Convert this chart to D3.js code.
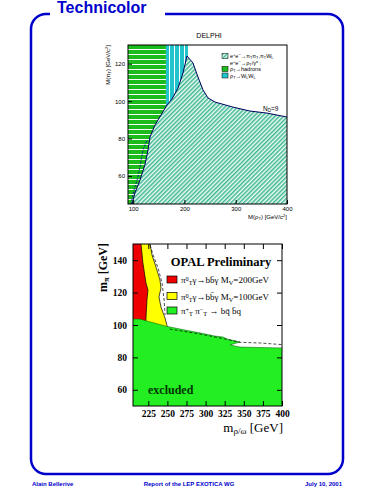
<!DOCTYPE html>
<html>
<head>
<meta charset="utf-8">
<script src="https://cdn.jsdelivr.net/npm/d3@7"></script>
<style>body{margin:0;background:#fff}</style>
</head>
<body>
<div id="container"></div>
<script>
let w = 375;
let h = 500;
let blue = "#0000cc";

// DELPHI panel values
let delphiXTicks = [100, 200, 300, 400];
let delphiYTicks = [60, 80, 100, 120];
let limitMassX = [97.8, 103.6, 113.4, 123, 129, 132.9, 142.6, 166, 175.8, 187.5, 197.2, 205, 216.7, 226.4, 236.2, 246, 259.6, 294.6, 327.8, 360.9, 400];
let limitMassY = [45, 50.9, 57.8, 66, 73.9, 80.8, 87.2, 97.9, 101.1, 107, 115, 124.1, 120.4, 112.9, 106, 101.7, 99.5, 96.8, 94.7, 93.6, 91.5];
let expectedMassX = [95.8, 101.7, 109.5, 119.2, 127];
let expectedMassY = [45, 52.5, 59.4, 73.9, 79.2];
let hadronsRange = [90, 164];
let wwRange = [164, 207];

// OPAL panel values
let opalXTicks = [225, 250, 275, 300, 325, 350, 375, 400];
let opalYTicks = [60, 80, 100, 120, 140];
let chargedX = [205, 214, 223, 247, 273, 293, 312, 322.8, 328, 345, 332, 345, 400];
let chargedY = [103.7, 103.7, 102.5, 99.4, 96.9, 95.1, 93.2, 92.6, 91.4, 89.5, 87.7, 86.4, 85.8];
let chargedExpX = [253, 293, 325, 345, 371, 400];
let chargedExpY = [97.5, 94.4, 91.4, 89.3, 88.9, 87.9];
let redEdgeX = [215.5, 218, 222, 224.6, 223.3, 222, 222];
let redEdgeY = [150, 138.3, 125.9, 121.6, 115.4, 104.3, 95];
let yellowEdgeX = [227.3, 229.9, 235.1, 240.3, 241.6, 239, 241.6, 246.9, 249.5, 252];
let yellowEdgeY = [150, 143.2, 135.8, 127.8, 122.8, 117.3, 111.1, 104.3, 99.6, 95];
let yellowExpX = [227.3, 231.3, 237.8, 243, 245.7, 247];
let yellowExpY = [149.4, 143.2, 135.2, 125.9, 115.4, 106.2];

let svg = d3.select("#container")
  .append("svg")
    .attr("width", w)
    .attr("height", h)
    .style("background-color", "white");

function rich(sel, parts, size){
  parts.forEach(function(p){
    let t = sel.append("tspan").text(p[0]);
    if (p[1] == "sub") t.attr("baseline-shift", "-25%").attr("font-size", size * 0.7);
    if (p[1] == "sup") t.attr("baseline-shift", "40%").attr("font-size", size * 0.7);
  });
  return sel;
}

// page frame
svg.append("path")
  .attr("d", "M50,14 H46 A15,15 0 0 0 31,29 V459 A15,15 0 0 0 46,474 H328 A15,15 0 0 0 343,459 V29 A15,15 0 0 0 328,14 H165")
  .attr("fill", "none").attr("stroke", blue).attr("stroke-width", 2.5);
svg.append("text").text("Technicolor")
  .attr("x", 57).attr("y", 12.5)
  .attr("font-family", "Liberation Sans").attr("font-weight", "bold").attr("font-size", 16).attr("fill", blue);

let foot = svg.append("g").attr("font-family", "Liberation Sans").attr("font-weight", "bold").attr("font-size", 6).attr("fill", blue);
foot.append("text").text("Alain Bellerive").attr("x", 32).attr("y", 486);
foot.append("text").text("Report of the LEP EXOTICA WG").attr("x", 189).attr("y", 486).attr("text-anchor", "middle");
foot.append("text").text("July 10, 2001").attr("x", 342).attr("y", 486).attr("text-anchor", "end");

let defs = svg.append("defs");
let hatch = defs.append("pattern").attr("id", "hatch").attr("width", 3).attr("height", 3)
  .attr("patternUnits", "userSpaceOnUse").attr("patternTransform", "rotate(45)");
hatch.append("rect").attr("width", 3).attr("height", 3).attr("fill", "#f2fbf7");
hatch.append("rect").attr("width", 1.5).attr("height", 3).attr("fill", "#3bb890");
let hstripe = defs.append("pattern").attr("id", "hstripe").attr("width", 10).attr("height", 5).attr("patternUnits", "userSpaceOnUse");
hstripe.append("rect").attr("width", 10).attr("height", 5).attr("fill", "#1cbb1c");
hstripe.append("rect").attr("y", 4).attr("width", 10).attr("height", 1).attr("fill", "#ffffff");
let vstripe = defs.append("pattern").attr("id", "vstripe").attr("width", 5).attr("height", 10).attr("patternUnits", "userSpaceOnUse");
vstripe.append("rect").attr("width", 5).attr("height", 10).attr("fill", "#22c4cc");
vstripe.append("rect").attr("x", 4).attr("width", 1).attr("height", 10).attr("fill", "#ffffff");

// ---------- DELPHI ----------
let dX = d3.scaleLinear().domain([90, 400]).range([128, 287]);
let dY = d3.scaleLinear().domain([45, 130]).range([204, 45]);

defs.append("clipPath").attr("id", "dclip").append("rect")
  .attr("x", dX(90)).attr("y", dY(130)).attr("width", dX(400) - dX(90)).attr("height", dY(45) - dY(130));

let dg = svg.append("g").attr("clip-path", "url(#dclip)");
dg.append("rect").attr("x", dX(hadronsRange[0])).attr("y", dY(130))
  .attr("width", dX(hadronsRange[1]) - dX(hadronsRange[0])).attr("height", dY(45) - dY(130)).attr("fill", "url(#hstripe)");
dg.append("rect").attr("x", dX(wwRange[0])).attr("y", dY(130))
  .attr("width", dX(wwRange[1]) - dX(wwRange[0])).attr("height", dY(45) - dY(130)).attr("fill", "url(#vstripe)");

let limitPts = limitMassX.map((x, i) => [x, limitMassY[i]]);
dg.append("path").datum(limitPts)
  .attr("d", d3.area().x(d => dX(d[0])).y0(dY(45)).y1(d => dY(d[1])))
  .attr("fill", "url(#hatch)");
dg.append("path").datum(limitPts)
  .attr("d", d3.line().x(d => dX(d[0])).y(d => dY(d[1])))
  .attr("fill", "none").attr("stroke", "#000060").attr("stroke-width", 1);
dg.append("path").datum(expectedMassX.map((x, i) => [x, expectedMassY[i]]))
  .attr("d", d3.line().x(d => dX(d[0])).y(d => dY(d[1])))
  .attr("fill", "none").attr("stroke", "#0000a0").attr("stroke-width", 0.8).attr("stroke-dasharray", "2,1.5");

svg.append("rect").attr("x", dX(90)).attr("y", dY(130)).attr("width", dX(400) - dX(90)).attr("height", dY(45) - dY(130))
  .attr("fill", "none").attr("stroke", "black").attr("stroke-width", 1);

let dax = svg.append("g").attr("transform", "translate(0," + dY(45) + ")");
dax.call(d3.axisBottom(dX).tickValues(d3.range(100, 401, 20)).tickFormat("").tickSize(-2));
dax.call(d3.axisBottom(dX).tickValues(delphiXTicks).tickSize(-4).tickPadding(3));
let day = svg.append("g").attr("transform", "translate(" + dX(90) + ",0)");
day.call(d3.axisLeft(dY).tickValues(d3.range(50, 130, 5)).tickFormat("").tickSize(-2));
day.call(d3.axisLeft(dY).tickValues(delphiYTicks).tickSize(-4).tickPadding(3));
[dax, day].forEach(function(g){
  g.selectAll(".domain").remove();
  g.selectAll("text").attr("font-family", "Liberation Sans").attr("font-size", 6).attr("fill", "black");
});

svg.append("text").text("DELPHI").attr("x", 209).attr("y", 38).attr("text-anchor", "middle")
  .attr("font-family", "Liberation Sans").attr("font-size", 7);
rich(svg.append("text").attr("x", 287).attr("y", 219).attr("text-anchor", "end")
  .attr("font-family", "Liberation Sans").attr("font-size", 6),
  [["M(ρ"], ["T", "sub"], [") [GeV/c"], ["2", "sup"], ["]"]], 6);
rich(svg.append("text").attr("transform", "translate(110,45) rotate(-90)").attr("text-anchor", "end")
  .attr("font-family", "Liberation Sans").attr("font-size", 6),
  [["M(π"], ["T", "sub"], [") [GeV/c"], ["2", "sup"], ["]"]], 6);

let dleg = svg.append("g").attr("font-family", "Liberation Sans").attr("font-size", 5.5);
dleg.append("rect").attr("x", 222).attr("y", 53.5).attr("width", 6).attr("height", 5).attr("fill", "url(#hatch)").attr("stroke", "black").attr("stroke-width", 0.5);
dleg.append("rect").attr("x", 222).attr("y", 66.5).attr("width", 6).attr("height", 5).attr("fill", "#1cbb1c").attr("stroke", "black").attr("stroke-width", 0.5);
dleg.append("rect").attr("x", 222).attr("y", 73).attr("width", 6).attr("height", 5).attr("fill", "#22c4cc").attr("stroke", "black").attr("stroke-width", 0.5);
rich(dleg.append("text").attr("x", 230).attr("y", 58),
  [["e"], ["+", "sup"], ["e"], ["−", "sup"], ["→π"], ["T", "sub"], ["π"], ["T", "sub"], [",π"], ["T", "sub"], ["W"], ["L", "sub"]], 5.5);
rich(dleg.append("text").attr("x", 230).attr("y", 64.5),
  [["e"], ["+", "sup"], ["e"], ["−", "sup"], ["→ρ"], ["T", "sub"], ["/γ* :"]], 5.5);
rich(dleg.append("text").attr("x", 230).attr("y", 71),
  [["ρ"], ["T", "sub"], ["→hadrons"]], 5.5);
rich(dleg.append("text").attr("x", 230).attr("y", 77.5),
  [["ρ"], ["T", "sub"], ["→W"], ["L", "sub"], ["W"], ["L", "sub"]], 5.5);
rich(svg.append("text").attr("x", 263).attr("y", 111).attr("font-family", "Liberation Sans").attr("font-size", 6.5),
  [["N"], ["D", "sub"], ["=9"]], 6.5);

// ---------- OPAL ----------
let oX = d3.scaleLinear().domain([205, 400]).range([133, 282]);
let oY = d3.scaleLinear().domain([50, 150]).range([406, 244]);

defs.append("clipPath").attr("id", "oclip").append("rect")
  .attr("x", oX(205)).attr("y", oY(150)).attr("width", oX(400) - oX(205)).attr("height", oY(50) - oY(150));
let og = svg.append("g").attr("clip-path", "url(#oclip)");

function edgeArea(xs, ys){
  let pts = xs.map((x, i) => [x, ys[i]]);
  return [[205, ys[0]]].concat(pts).concat([[205, ys[ys.length - 1]]]);
}
let polyLine = d3.line().x(d => oX(d[0])).y(d => oY(d[1]));

og.append("path").datum(edgeArea(yellowEdgeX, yellowEdgeY)).attr("d", polyLine).attr("fill", "#ffff00");
og.append("path").datum(yellowEdgeX.map((x, i) => [x, yellowEdgeY[i]])).attr("d", polyLine)
  .attr("fill", "none").attr("stroke", "black").attr("stroke-width", 0.7);
og.append("path").datum(edgeArea(redEdgeX, redEdgeY)).attr("d", polyLine).attr("fill", "#ee0000");
og.append("path").datum(redEdgeX.map((x, i) => [x, redEdgeY[i]])).attr("d", polyLine)
  .attr("fill", "none").attr("stroke", "black").attr("stroke-width", 0.7);
og.append("path").datum(yellowExpX.map((x, i) => [x, yellowExpY[i]])).attr("d", polyLine)
  .attr("fill", "none").attr("stroke", "black").attr("stroke-width", 0.7).attr("stroke-dasharray", "3,2");

let chargedPts = chargedX.map((x, i) => [x, chargedY[i]]);
og.append("path").datum([[205, 50]].concat(chargedPts).concat([[400, 50]])).attr("d", polyLine).attr("fill", "#22ee22");
og.append("path").datum(chargedPts).attr("d", polyLine)
  .attr("fill", "none").attr("stroke", "#005500").attr("stroke-width", 0.5);
og.append("path").datum(chargedExpX.map((x, i) => [x, chargedExpY[i]])).attr("d", polyLine)
  .attr("fill", "none").attr("stroke", "black").attr("stroke-width", 0.7).attr("stroke-dasharray", "3,2");

svg.append("rect").attr("x", oX(205)).attr("y", oY(150)).attr("width", oX(400) - oX(205)).attr("height", oY(50) - oY(150))
  .attr("fill", "none").attr("stroke", "black").attr("stroke-width", 1);

let oMinorX = d3.range(205, 401, 5);
let oMinorY = d3.range(50, 151, 5);
let obx = svg.append("g").attr("transform", "translate(0," + oY(50) + ")");
obx.call(d3.axisBottom(oX).tickValues(oMinorX).tickFormat("").tickSize(-2.5));
obx.call(d3.axisBottom(oX).tickValues(opalXTicks).tickSize(-5).tickPadding(4));
let otx = svg.append("g").attr("transform", "translate(0," + oY(150) + ")");
otx.call(d3.axisTop(oX).tickValues(oMinorX).tickFormat("").tickSize(-2.5));
otx.call(d3.axisTop(oX).tickValues(opalXTicks).tickFormat("").tickSize(-5));
let oly = svg.append("g").attr("transform", "translate(" + oX(205) + ",0)");
oly.call(d3.axisLeft(oY).tickValues(oMinorY).tickFormat("").tickSize(-2.5));
oly.call(d3.axisLeft(oY).tickValues(opalYTicks).tickSize(-5).tickPadding(6));
let ory = svg.append("g").attr("transform", "translate(" + oX(400) + ",0)");
ory.call(d3.axisRight(oY).tickValues(oMinorY).tickFormat("").tickSize(-2.5));
ory.call(d3.axisRight(oY).tickValues(opalYTicks).tickFormat("").tickSize(-5));
[obx, otx, oly, ory].forEach(function(g){
  g.selectAll(".domain").remove();
  g.selectAll("text").attr("font-family", "Liberation Serif").attr("font-weight", "bold").attr("font-size", 9.5).attr("fill", "black");
});

let serif = "Liberation Serif";
svg.append("text").text("OPAL Preliminary").attr("x", 221).attr("y", 266).attr("text-anchor", "middle")
  .attr("font-family", serif).attr("font-weight", "bold").attr("font-size", 12.5);
svg.append("text").text("excluded").attr("x", 148).attr("y", 394)
  .attr("font-family", serif).attr("font-weight", "bold").attr("font-size", 12).attr("fill", "#003300");
rich(svg.append("text").attr("x", 283).attr("y", 432).attr("text-anchor", "end")
  .attr("font-family", serif).attr("font-size", 13),
  [["m"], ["ρ/ω", "sub"], [" [GeV]"]], 13);
rich(svg.append("text").attr("transform", "translate(107,243) rotate(-90)").attr("text-anchor", "end")
  .attr("font-family", serif).attr("font-weight", "bold").attr("font-size", 12),
  [["m"], ["π", "sub"], [" [GeV]"]], 12);

let oleg = svg.append("g").attr("font-family", serif).attr("font-size", 9);
oleg.append("rect").attr("x", 167).attr("y", 276).attr("width", 10).attr("height", 7).attr("fill", "#ee0000").attr("stroke", "black").attr("stroke-width", 0.7);
oleg.append("rect").attr("x", 167).attr("y", 292.5).attr("width", 10).attr("height", 7).attr("fill", "#ffff00").attr("stroke", "black").attr("stroke-width", 0.7);
oleg.append("rect").attr("x", 167).attr("y", 307).attr("width", 10).attr("height", 7).attr("fill", "#22ee22").attr("stroke", "black").attr("stroke-width", 0.7);
rich(oleg.append("text").attr("x", 181).attr("y", 283),
  [["π"], ["0", "sup"], ["T", "sub"], ["γ→bb\u0304γ M"], ["V", "sub"], ["=200GeV"]], 9);
rich(oleg.append("text").attr("x", 181).attr("y", 299.5),
  [["π"], ["0", "sup"], ["T", "sub"], ["γ→bb\u0304γ M"], ["V", "sub"], ["=100GeV"]], 9);
rich(oleg.append("text").attr("x", 181).attr("y", 314),
  [["π"], ["+", "sup"], ["T", "sub"], [" π"], ["−", "sup"], ["T", "sub"], [" → bq\u0304 b\u0304q"]], 9);
</script>
</body>
</html>
